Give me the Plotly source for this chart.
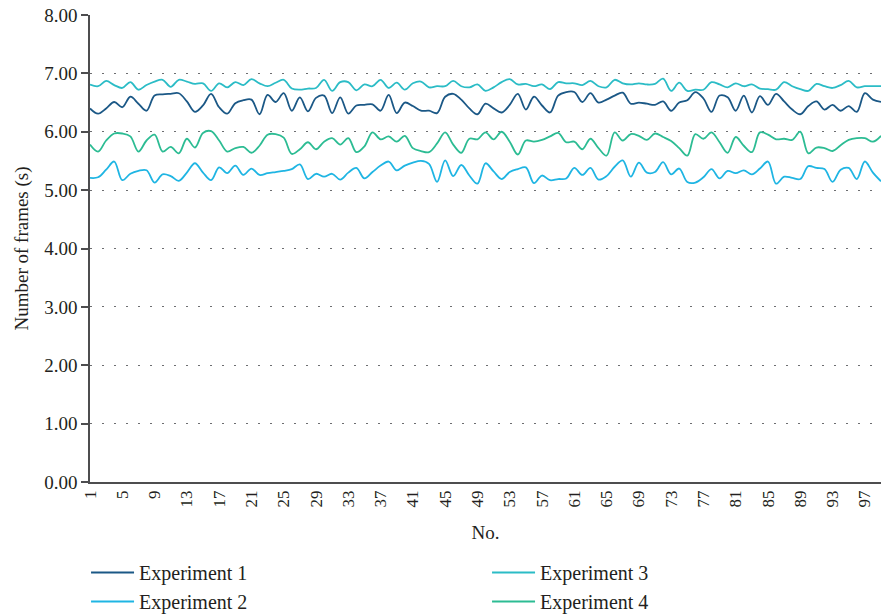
import plotly.graph_objects as go

no = list(range(1, 100))

exp1 = [6.40, 6.31, 6.40, 6.51, 6.42, 6.60, 6.48, 6.36, 6.62, 6.64,
        6.65, 6.66, 6.52, 6.34, 6.45, 6.65, 6.42, 6.31, 6.49, 6.54,
        6.55, 6.30, 6.63, 6.51, 6.66, 6.36, 6.59, 6.35, 6.58, 6.62,
        6.32, 6.59, 6.31, 6.45, 6.46, 6.47, 6.36, 6.63, 6.32, 6.50,
        6.44, 6.36, 6.36, 6.32, 6.60, 6.65, 6.55, 6.40, 6.30, 6.48,
        6.40, 6.33, 6.46, 6.65, 6.38, 6.60, 6.45, 6.33, 6.62, 6.68,
        6.68, 6.51, 6.66, 6.50, 6.55, 6.62, 6.67, 6.48, 6.50, 6.48,
        6.46, 6.52, 6.36, 6.50, 6.54, 6.68, 6.57, 6.34, 6.62, 6.59,
        6.36, 6.62, 6.33, 6.61, 6.46, 6.65, 6.52, 6.38, 6.30, 6.44,
        6.52, 6.38, 6.46, 6.36, 6.44, 6.34, 6.66, 6.55, 6.51]

exp2 = [5.21, 5.22, 5.35, 5.49, 5.17, 5.28, 5.33, 5.34, 5.13, 5.27,
        5.24, 5.16, 5.30, 5.46, 5.30, 5.17, 5.39, 5.29, 5.42, 5.26,
        5.37, 5.26, 5.29, 5.31, 5.33, 5.36, 5.44, 5.19, 5.28, 5.23,
        5.28, 5.18, 5.30, 5.38, 5.20, 5.31, 5.42, 5.49, 5.34, 5.42,
        5.47, 5.50, 5.45, 5.14, 5.51, 5.24, 5.43, 5.25, 5.11, 5.46,
        5.32, 5.19, 5.31, 5.36, 5.39, 5.12, 5.25, 5.17, 5.19, 5.20,
        5.38, 5.26, 5.38, 5.18, 5.24, 5.40, 5.51, 5.23, 5.47, 5.30,
        5.31, 5.48, 5.27, 5.37, 5.14, 5.13, 5.22, 5.36, 5.20, 5.33,
        5.29, 5.34, 5.27, 5.37, 5.49, 5.11, 5.23, 5.21, 5.19, 5.41,
        5.38, 5.36, 5.14, 5.35, 5.38, 5.19, 5.49, 5.30, 5.15]

exp3 = [6.81, 6.78, 6.87, 6.80, 6.75, 6.85, 6.72, 6.80, 6.86, 6.89,
        6.77, 6.89, 6.86, 6.82, 6.83, 6.70, 6.83, 6.76, 6.85, 6.80,
        6.90, 6.83, 6.78, 6.84, 6.89, 6.74, 6.72, 6.74, 6.75, 6.89,
        6.70, 6.85, 6.85, 6.71, 6.81, 6.78, 6.89, 6.75, 6.84, 6.72,
        6.83, 6.86, 6.76, 6.78, 6.78, 6.87, 6.78, 6.76, 6.81, 6.70,
        6.76, 6.85, 6.90, 6.81, 6.82, 6.78, 6.81, 6.73, 6.85, 6.83,
        6.83, 6.80, 6.87, 6.78, 6.76, 6.89, 6.83, 6.81, 6.83, 6.81,
        6.82, 6.91, 6.70, 6.84, 6.70, 6.72, 6.72, 6.85, 6.81, 6.76,
        6.83, 6.78, 6.81, 6.74, 6.73, 6.72, 6.85, 6.78, 6.73, 6.70,
        6.82, 6.78, 6.75, 6.80, 6.87, 6.76, 6.78, 6.78, 6.78]

exp4 = [5.78, 5.66, 5.85, 5.97, 5.97, 5.92, 5.66, 5.85, 5.95, 5.66,
        5.74, 5.63, 5.88, 5.73, 5.98, 6.01, 5.85, 5.66, 5.72, 5.74,
        5.64, 5.76, 5.95, 5.96, 5.90, 5.62, 5.70, 5.82, 5.70, 5.83,
        5.89, 5.78, 5.89, 5.65, 5.75, 5.99, 5.87, 5.92, 5.83, 5.93,
        5.72, 5.67, 5.65, 5.80, 5.99, 5.78, 5.64, 5.88, 5.87, 5.99,
        5.87, 6.00, 5.83, 5.61, 5.85, 5.83, 5.86, 5.92, 5.98, 5.82,
        5.83, 5.70, 5.88, 5.72, 5.59, 5.99, 5.85, 5.96, 5.93, 5.86,
        5.97, 5.91, 5.84, 5.72, 5.59, 5.96, 5.88, 5.99, 5.82, 5.64,
        5.91, 5.76, 5.65, 5.99, 5.95, 5.87, 5.88, 5.86, 6.00, 5.63,
        5.73, 5.72, 5.67, 5.77, 5.86, 5.89, 5.89, 5.83, 5.93]

series_names = ["Experiment 1", "Experiment 2", "Experiment 3", "Experiment 4"]
series_values = [exp1, exp2, exp3, exp4]
colors = ["#1b5886", "#1fb5e3", "#2bbcc6", "#2cbc93"]
ranks = [1, 3, 2, 4]

x_tick_vals = list(range(1, 100, 4))
x_tick_text = [str(v) for v in x_tick_vals]
y_tick_vals = [0, 1, 2, 3, 4, 5, 6, 7, 8]
y_tick_text = [f"{v:.2f}" for v in y_tick_vals]

FONT = "Liberation Serif, DejaVu Serif, serif"

fig = go.Figure()
for name, vals, col, rk in zip(series_names, series_values, colors, ranks):
    fig.add_trace(go.Scatter(
        x=no, y=vals, name=name, mode="lines",
        line=dict(color=col, width=1.8, shape="spline", smoothing=1),
        legendrank=rk,
    ))

fig.update_layout(
    width=882, height=616,
    margin=dict(l=90, r=1, t=15, b=134, autoexpand=False),
    paper_bgcolor="white", plot_bgcolor="white",
    font=dict(family=FONT, size=17, color="#231f20"),
    showlegend=True,
    legend=dict(
        orientation="h", xref="paper", yref="paper",
        x=-0.005, y=-0.152, xanchor="left", yanchor="top",
        entrywidth=343, entrywidthmode="pixels", itemwidth=43,
        font=dict(family=FONT, size=20, color="#231f20"),
        tracegroupgap=0,
    ),
    xaxis=dict(
        range=[1, 99], tickmode="array", tickvals=x_tick_vals, ticktext=x_tick_text,
        tickangle=-90, showgrid=False, zeroline=False,
        showline=True, linecolor="#4d4d4f", linewidth=1.5,
        ticks="", tickfont=dict(size=17),
        title=dict(text="No.", font=dict(size=19), standoff=19),
    ),
    yaxis=dict(
        range=[0, 8], tickmode="array", tickvals=y_tick_vals, ticktext=y_tick_text,
        showgrid=True, gridcolor="#6d6e71", griddash="1.5px,10.5px", gridwidth=1,
        zeroline=False, showline=True, linecolor="#4d4d4f", linewidth=1.5,
        ticks="outside", ticklen=7, tickcolor="#4d4d4f", tickwidth=1.5,
        tickfont=dict(size=19),
        title=dict(text="Number of frames (s)", font=dict(size=19), standoff=11),
    ),
)

fig.write_html("out.html")
